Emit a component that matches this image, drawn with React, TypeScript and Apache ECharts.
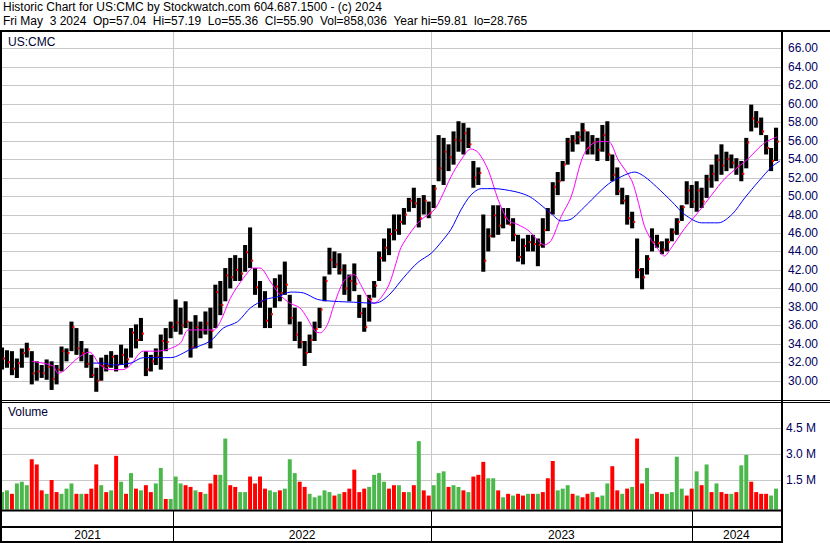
import React, { useEffect, useRef } from "react";
import * as echarts from "echarts";

// ---- Data (weekly, from week of May 3 2021 to week of Apr 29 2024) ----
const weekHigh = [
  33.6, 33.3, 33.2, 32.4, 33.5, 34.1, 33.2, 32.1, 31.7, 32.3, 32.1, 31.7, 33.7, 33.5, 36.4, 35.7, 34.3, 33.5, 32.8, 31.4,
  32.5, 32.8, 33.2, 32.8, 33.9, 33.5, 35.7, 36.1, 36.8, 33.2, 32.8, 33.5, 35.0, 35.7, 36.4, 38.8, 37.9, 38.6, 36.4, 37.1,
  36.4, 37.5, 37.9, 40.4, 40.8, 42.2, 43.3, 43.6, 43.3, 44.7, 46.6, 42.2, 40.8, 39.7, 37.9, 41.1, 41.5, 42.9, 39.3, 37.9,
  36.4, 34.3, 35.0, 36.4, 37.9, 41.3, 44.4, 44.0, 43.8, 42.6, 41.5, 42.7, 39.3, 37.9, 39.3, 40.8, 44.0, 45.4, 46.5, 48.0,
  48.0, 48.7, 49.8, 50.9, 49.8, 50.1, 49.4, 51.2, 56.6, 56.3, 55.6, 57.0, 58.1, 57.9, 57.4, 53.8, 53.1, 48.0, 46.5, 49.0,
  49.0, 48.7, 48.7, 47.6, 45.8, 45.4, 45.8, 45.8, 45.4, 47.6, 48.7, 51.5, 52.6, 53.8, 56.3, 56.6, 57.0, 57.9, 57.0, 56.6,
  56.3, 57.7, 58.1, 54.5, 53.1, 50.9, 50.1, 48.3, 45.4, 42.2, 43.6, 46.5, 45.8, 45.1, 45.4, 46.5, 47.6, 49.0, 51.6, 51.2,
  51.6, 50.9, 52.3, 53.4, 54.5, 55.6, 54.8, 54.5, 54.1, 53.8, 56.3, 59.9, 59.2, 58.5, 56.6, 55.2, 57.4,
];
const weekLow = [
  31.2, 31.4, 30.6, 30.3, 31.4, 32.5, 29.6, 30.0, 30.3, 30.1, 29.0, 29.6, 31.0, 32.1, 33.2, 32.8, 32.1, 31.4, 30.3, 28.8,
  30.0, 31.0, 31.4, 31.0, 31.7, 31.4, 32.5, 33.5, 34.3, 30.5, 31.0, 31.7, 31.2, 33.2, 34.6, 35.3, 35.0, 35.7, 32.5, 33.5,
  34.6, 35.0, 33.5, 35.7, 37.1, 38.6, 40.0, 40.8, 40.8, 41.8, 42.2, 39.3, 37.9, 35.7, 35.7, 37.9, 38.6, 39.3, 36.1, 34.3,
  33.5, 31.6, 33.0, 34.3, 35.7, 38.6, 41.5, 42.2, 41.5, 39.3, 38.6, 39.7, 36.8, 35.3, 36.4, 39.0, 40.8, 42.9, 43.6, 45.2,
  45.8, 46.9, 48.3, 48.7, 46.6, 48.0, 47.6, 48.7, 51.6, 51.2, 52.7, 53.4, 54.8, 54.5, 55.2, 50.9, 51.2, 41.8, 44.0, 45.5,
  45.8, 46.5, 46.9, 45.1, 42.9, 42.6, 44.0, 44.0, 42.4, 44.4, 46.2, 48.0, 50.1, 51.6, 53.4, 54.8, 55.6, 55.9, 54.5, 54.5,
  53.8, 54.8, 53.8, 51.6, 50.1, 49.1, 46.9, 46.5, 41.1, 39.9, 41.5, 44.0, 44.4, 43.7, 44.0, 45.1, 45.8, 47.3, 49.1, 48.7,
  48.3, 48.7, 49.8, 50.9, 51.6, 52.3, 52.7, 53.0, 52.3, 51.6, 53.0, 57.0, 57.4, 56.6, 54.5, 52.7, 53.8,
];
const weekClose = [
  32.4, 32.0, 31.3, 31.9, 33.0, 33.4, 30.8, 31.0, 30.8, 31.5, 30.2, 31.2, 33.2, 33.0, 35.8, 33.5, 33.0, 31.8, 30.6, 30.0,
  31.6, 31.6, 32.6, 31.7, 32.8, 32.3, 35.2, 34.4, 35.1, 31.2, 32.1, 32.6, 34.3, 34.2, 35.8, 36.3, 36.0, 36.4, 33.6, 35.8,
  35.5, 36.2, 35.4, 39.6, 38.2, 41.4, 41.2, 42.0, 41.6, 43.9, 43.0, 40.1, 38.6, 36.5, 37.2, 40.2, 39.5, 40.4, 36.8, 35.0,
  34.2, 33.0, 34.4, 35.6, 37.7, 40.8, 43.1, 42.6, 42.0, 40.0, 40.8, 40.5, 37.3, 35.8, 38.8, 40.3, 43.3, 44.4, 45.9, 46.3,
  47.2, 48.0, 49.5, 49.2, 47.6, 49.5, 48.2, 50.8, 53.0, 54.8, 54.2, 56.1, 56.0, 56.8, 55.6, 52.0, 52.5, 43.0, 45.7, 47.9,
  46.8, 47.7, 46.9, 45.8, 43.4, 44.6, 45.0, 44.8, 44.7, 46.3, 48.2, 51.0, 51.6, 53.4, 55.9, 56.0, 56.4, 57.1, 55.2, 55.8,
  55.0, 56.6, 54.5, 52.3, 50.5, 49.5, 47.6, 47.2, 42.0, 41.2, 43.2, 45.0, 44.9, 44.2, 45.0, 46.1, 47.2, 48.8, 50.6, 49.4,
  50.6, 49.4, 51.8, 52.4, 53.9, 53.3, 54.0, 53.6, 53.2, 52.4, 55.8, 58.4, 58.0, 57.0, 55.2, 53.8, 55.9,
];
// volume in millions, and direction (1 = up/green, 0 = down/red)
const weekVolume = [
  0.8, 0.9, 0.7, 1.3, 1.4, 1.2, 2.7, 2.4, 0.9, 0.7, 1.5, 0.8, 0.7, 1.0, 1.3, 0.7, 0.7, 0.7, 1.0, 2.4,
  1.2, 0.8, 0.9, 2.9, 1.4, 0.7, 1.9, 1.0, 0.9, 1.2, 0.8, 1.3, 2.2, 0.4, 0.4, 1.7, 1.3, 1.2, 1.1, 0.9,
  0.8, 0.7, 1.3, 1.8, 1.8, 3.9, 1.2, 1.1, 0.8, 0.8, 1.7, 1.3, 1.7, 1.0, 0.9, 0.8, 0.9, 1.0, 2.7, 1.9,
  1.4, 1.1, 0.7, 0.5, 0.6, 0.9, 0.8, 0.6, 0.7, 0.8, 1.0, 2.1, 0.8, 1.0, 1.1, 1.8, 1.9, 1.4, 1.0, 1.2,
  1.2, 0.8, 0.8, 1.2, 3.75, 0.9, 0.6, 1.2, 1.9, 2.0, 1.1, 1.2, 1.1, 0.9, 0.8, 1.7, 1.8, 2.55, 1.6, 1.6,
  0.9, 0.5, 0.7, 0.6, 0.7, 0.6, 0.7, 0.7, 0.7, 0.8, 1.6, 2.6, 0.9, 1.0, 1.2, 0.7, 0.6, 0.5, 0.7, 0.8,
  0.5, 0.6, 1.3, 2.3, 0.9, 0.7, 1.0, 1.1, 3.9, 1.3, 2.2, 0.7, 0.8, 0.7, 0.7, 0.8, 2.85, 1.0, 0.6, 1.0,
  2.0, 1.2, 2.4, 0.8, 1.3, 0.8, 0.7, 0.7, 0.8, 2.35, 2.95, 1.4, 0.8, 0.7, 0.7, 0.6, 1.0,
];
const weekDir = [
  1, 1, 0, 1, 1, 1, 0, 0, 0, 1, 0, 0, 1, 1, 1, 0, 1, 0, 0, 0,
  1, 0, 1, 0, 1, 0, 1, 0, 1, 0, 0, 1, 1, 0, 1, 1, 1, 0, 0, 1,
  0, 1, 0, 0, 1, 1, 0, 0, 1, 1, 0, 0, 0, 0, 1, 1, 0, 1, 1, 1,
  0, 0, 1, 1, 1, 1, 1, 0, 1, 0, 0, 0, 0, 0, 1, 1, 1, 1, 0, 0,
  1, 0, 1, 0, 1, 0, 0, 1, 1, 1, 0, 1, 1, 0, 1, 0, 0, 0, 1, 1,
  0, 1, 0, 1, 0, 0, 1, 0, 1, 0, 0, 0, 1, 1, 1, 0, 1, 0, 0, 1,
  0, 1, 1, 0, 0, 1, 0, 1, 0, 0, 1, 1, 0, 0, 1, 1, 1, 1, 0, 0,
  1, 0, 1, 0, 1, 0, 0, 1, 0, 1, 1, 0, 0, 0, 0, 1, 1,
];
// moving averages: [week, value]
const maShort = [
  [6, 32.1], [10.3, 31.6], [11.3, 30.8], [15.4, 32.5], [17.6, 33.1], [19.8, 31.7], [21.8, 31.2], [24.4, 31.2],
  [25.9, 31.7], [28.5, 33.2], [31.3, 33.2], [34, 33.5], [36, 34.1], [37.6, 35.5], [42.6, 35.5], [44, 36.4],
  [46, 38.9], [47.7, 40.4], [49.5, 41.7], [50.5, 42.2], [52, 42.2], [54, 40.8], [56, 39.3], [58, 38.4],
  [60, 37.9], [61.5, 36.8], [63.2, 35.3], [64.2, 35.2], [65.6, 36.1], [66.9, 38.2], [68.9, 40.8], [70.9, 41.5],
  [72.3, 40.4], [73.7, 39.0], [75, 38.4], [76.4, 39.0], [78, 40.4], [79.4, 42.7], [80.4, 44.4], [82.4, 46.1],
  [84.4, 47.4], [87.1, 48.5], [88.5, 49.8], [90.5, 52.1], [92.5, 53.9], [94.5, 55.1], [96, 54.7], [98, 52.8],
  [100, 49.6], [102, 47.4], [104, 46.9], [106, 46.3], [108, 45.2], [109.3, 44.7], [110.7, 45.2], [112.7, 47.8],
  [114.7, 49.9], [116.8, 53.9], [118.2, 55.3], [120.2, 55.9], [122.2, 55.9], [124.2, 53.9], [126.9, 51.7],
  [128.3, 49.2], [129.5, 46.7], [130.9, 45.2], [132, 44.4], [133.5, 43.5], [134.9, 44.4], [137.6, 46.5],
  [140.4, 48.3], [143, 50.1], [145.7, 51.9], [148.5, 53.2], [150.5, 54.1], [152.5, 55.2], [154.1, 55.9], [156.2, 56.4],
];
const maLong = [
  [18.2, 31.9], [20.4, 31.9], [22.4, 31.7], [25.9, 31.9], [28.5, 32.5], [34, 32.5], [38, 33.4], [42, 34.3],
  [44.6, 35.7], [47.5, 36.4], [50.1, 37.9], [53.1, 38.8], [55.6, 39.1], [58.2, 39.6], [60.8, 39.5], [63.6, 38.8],
  [66.9, 38.6], [70.9, 38.5], [75, 38.4], [76.4, 38.6], [78.4, 39.5], [81, 41.2], [83.8, 42.8], [86.5, 43.8],
  [88.5, 45.0], [90.5, 46.4], [92.5, 48.5], [94.5, 50.1], [96.6, 50.8], [99.2, 50.8], [103.2, 50.5], [105.7, 50.1],
  [107.3, 49.6], [110.7, 48.1], [112.7, 47.3], [114.7, 47.5], [116.8, 48.5], [119.4, 49.9], [122.2, 51.3],
  [124.8, 52.1], [127.5, 52.6], [129.5, 52.1], [131.9, 51.0], [135, 49.4], [137.6, 48.0], [141, 47.1],
  [144.4, 47.1], [147.1, 48.0], [149.7, 49.8], [152.5, 51.6], [155.2, 53.2], [156.8, 53.8],
];
const priceTicks = [30, 32, 34, 36, 38, 40, 42, 44, 46, 48, 50, 52, 54, 56, 58, 60, 62, 64, 66];
const volumeTicks = [1.5, 3.0, 4.5];
// year segments in weeks: [start, end, label]
const yearSegments = [
  [0, 34.5, "2021"],
  [34.5, 86.5, "2022"],
  [86.5, 139, "2023"],
  [139, 157, "2024"],
];

const FONT = 'Arial, "Liberation Sans", sans-serif';
const AXIS_COLOR = "#000060";
const GRID_COLOR = "#c8c8c8";

function hLines(params: any, api: any) {
  const cs = params.coordSys;
  const y = Math.round(api.coord([0, api.value(1)])[1]) + 0.5;
  return {
    type: "line",
    shape: { x1: cs.x, y1: y, x2: cs.x + cs.width, y2: y },
    style: { stroke: GRID_COLOR, lineWidth: 1 },
  };
}
function vLines(params: any, api: any) {
  const cs = params.coordSys;
  const x = Math.round(api.coord([api.value(0), 0])[0]) + 0.5;
  return {
    type: "line",
    shape: { x1: x, y1: cs.y, x2: x, y2: cs.y + cs.height },
    style: { stroke: GRID_COLOR, lineWidth: 1 },
  };
}

export default function App() {
  const ref = useRef<HTMLDivElement>(null);
  useEffect(() => {
    if (!ref.current) return;
    const chart = echarts.init(ref.current, null, { renderer: "svg" });
    const nW = weekHigh.length;
    const ohlc = weekHigh.map((h, i) => [i, weekLow[i], h, weekClose[i]]);
    const vol = weekVolume.map((v, i) => [i, v, weekDir[i]]);
    const yearBounds = yearSegments.slice(1).map((s) => [s[0] as number, 0]);

    const option: any = {
      animation: false,
      backgroundColor: "#ffffff",
      grid: [
        { left: 2, top: 31, width: 779, height: 369, outerBoundsMode: "none" },
        { left: 2, top: 402, width: 779, height: 107.5, outerBoundsMode: "none" },
        { left: 2, top: 511, width: 779, height: 31, outerBoundsMode: "none" },
      ],
      xAxis: [0, 1, 2].map((g) => ({
        type: "value",
        gridIndex: g,
        min: 0,
        max: nW,
        show: false,
      })),
      yAxis: [
        {
          type: "value",
          gridIndex: 0,
          position: "right",
          min: 27.91,
          max: 67.874,
          axisLine: { show: false },
          axisTick: { show: false },
          splitLine: { show: false },
          axisLabel: {
            customValues: priceTicks,
            formatter: (v: number) => v.toFixed(2),
            color: AXIS_COLOR,
            fontSize: 12,
            fontFamily: FONT,
            margin: 7,
          },
        },
        {
          type: "value",
          gridIndex: 1,
          position: "right",
          min: -0.208,
          max: 6.017,
          axisLine: { show: false },
          axisTick: { show: false },
          splitLine: { show: false },
          axisLabel: {
            customValues: volumeTicks,
            formatter: (v: number) => v.toFixed(1) + " M",
            color: AXIS_COLOR,
            fontSize: 12,
            fontFamily: FONT,
            margin: 5,
          },
        },
        { type: "value", gridIndex: 2, min: 0, max: 1, show: false },
      ],
      graphic: [
        { type: "text", left: 3, top: 1, style: { text: "Historic Chart for US:CMC by Stockwatch.com 604.687.1500 - (c) 2024", font: `12px ${FONT}`, fill: "#000" } },
        { type: "text", left: 3, top: 15, style: { text: "Fri May  3 2024  Op=57.04  Hi=57.19  Lo=55.36  Cl=55.90  Vol=858,036  Year hi=59.81  lo=28.765", font: `12px ${FONT}`, fill: "#000" } },
        { type: "text", left: 8, top: 36, style: { text: "US:CMC", font: `12px ${FONT}`, fill: "#000033" } },
        { type: "text", left: 8, top: 406, style: { text: "Volume", font: `12px ${FONT}`, fill: "#000033" } },
        // frame
        { type: "line", shape: { x1: 0, y1: 31, x2: 830, y2: 31 }, style: { stroke: "#000", lineWidth: 2 }, z: 100 },
        { type: "line", shape: { x1: 1, y1: 30, x2: 1, y2: 543 }, style: { stroke: "#000", lineWidth: 2 }, z: 100 },
        { type: "line", shape: { x1: 782, y1: 30, x2: 782, y2: 543 }, style: { stroke: "#000", lineWidth: 2 }, z: 100 },
        { type: "line", shape: { x1: 0, y1: 400.5, x2: 830, y2: 400.5 }, style: { stroke: "#000", lineWidth: 1 }, z: 100 },
        { type: "line", shape: { x1: 0, y1: 402.5, x2: 830, y2: 402.5 }, style: { stroke: "#000", lineWidth: 1 }, z: 100 },
        { type: "line", shape: { x1: 0, y1: 510.5, x2: 782, y2: 510.5 }, style: { stroke: "#000", lineWidth: 2 }, z: 100 },
        { type: "line", shape: { x1: 0, y1: 527, x2: 782, y2: 527 }, style: { stroke: "#000", lineWidth: 2 }, z: 100 },
        { type: "line", shape: { x1: 0, y1: 542, x2: 782, y2: 542 }, style: { stroke: "#000", lineWidth: 2 }, z: 100 },
      ],
      series: [
        // price gridlines
        { type: "custom", xAxisIndex: 0, yAxisIndex: 0, silent: true, z: 0, data: priceTicks.map((v) => [0, v]), encode: { x: 0, y: 1 }, renderItem: hLines },
        { type: "custom", xAxisIndex: 0, yAxisIndex: 0, silent: true, z: 0, data: yearBounds, encode: { x: 0, y: 1 }, renderItem: vLines },
        // volume gridlines
        { type: "custom", xAxisIndex: 1, yAxisIndex: 1, silent: true, z: 0, data: volumeTicks.map((v) => [0, v]), encode: { x: 0, y: 1 }, renderItem: hLines },
        { type: "custom", xAxisIndex: 1, yAxisIndex: 1, silent: true, z: 0, data: yearBounds, encode: { x: 0, y: 1 }, renderItem: vLines },
        // price bars
        {
          type: "custom",
          xAxisIndex: 0,
          yAxisIndex: 0,
          silent: true,
          z: 2,
          data: ohlc,
          encode: { x: 0, y: [1, 2] },
          renderItem: (params: any, api: any) => {
            const x = api.value(0);
            const pHi = api.coord([x, api.value(2)]);
            const pLo = api.coord([x, api.value(1)]);
            const pCl = api.coord([x, api.value(3)]);
            const w = api.size([1, 0])[0] * 0.82;
            return {
              type: "group",
              children: [
                { type: "rect", shape: { x: pHi[0] - w / 2, y: pHi[1], width: w, height: Math.max(1, pLo[1] - pHi[1]) }, style: { fill: "#000" } },
                { type: "rect", shape: { x: pCl[0] + w / 2 - 1, y: pCl[1] - 1, width: 2, height: 2 }, style: { fill: "#ff0000" } },
              ],
            };
          },
        },
        {
          type: "line",
          xAxisIndex: 0,
          yAxisIndex: 0,
          silent: true,
          z: 3,
          data: maShort,
          showSymbol: false,
          smooth: 0.3,
          lineStyle: { color: "#ff00ff", width: 1 },
        },
        {
          type: "line",
          xAxisIndex: 0,
          yAxisIndex: 0,
          silent: true,
          z: 3,
          data: maLong,
          showSymbol: false,
          smooth: 0.3,
          lineStyle: { color: "#0000ff", width: 1 },
        },
        // volume bars
        {
          type: "custom",
          xAxisIndex: 1,
          yAxisIndex: 1,
          silent: true,
          z: 2,
          data: vol,
          encode: { x: 0, y: 1 },
          renderItem: (params: any, api: any) => {
            const cs = params.coordSys;
            const p = api.coord([api.value(0), api.value(1)]);
            const w = api.size([1, 0])[0] * 0.8;
            const bottom = cs.y + cs.height;
            return {
              type: "rect",
              shape: { x: p[0] - w / 2, y: p[1], width: w, height: bottom - p[1] },
              style: { fill: api.value(2) ? "#4cb84c" : "#ff0000" },
            };
          },
        },
        // year strip
        {
          type: "custom",
          xAxisIndex: 2,
          yAxisIndex: 2,
          silent: true,
          z: 5,
          data: yearSegments.map((s) => [s[0], s[1], 0]),
          renderItem: (params: any, api: any) => {
            const cs = params.coordSys;
            const s = api.value(0);
            const e = api.value(1);
            const xs = api.coord([s, 0])[0];
            const xm = api.coord([(s + e) / 2, 0])[0];
            const label = yearSegments[params.dataIndex][2] as string;
            const children: any[] = [
              { type: "text", x: xm, y: cs.y + cs.height - 7, style: { text: label, font: `12px ${FONT}`, fill: "#000", align: "center", verticalAlign: "middle" } },
            ];
            if (s > 0) {
              const xx = Math.round(xs) + 0.5;
              children.push({ type: "line", shape: { x1: xx, y1: cs.y, x2: xx, y2: cs.y + cs.height }, style: { stroke: "#000", lineWidth: 1 } });
            }
            return { type: "group", children };
          },
        },
      ],
    };
    chart.setOption(option);
    return () => chart.dispose();
  }, []);
  return (
    <div
      ref={ref}
      style={{ position: "fixed", left: 0, top: 0, width: 830, height: 543, background: "#fff" }}
    />
  );
}
